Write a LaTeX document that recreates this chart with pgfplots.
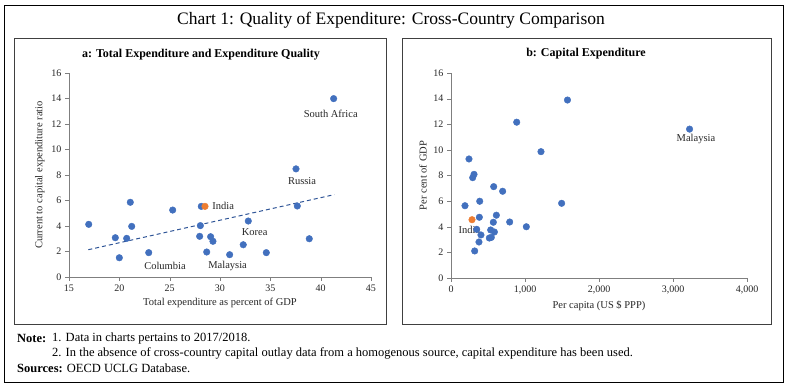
\documentclass[border=0pt]{standalone}
\usepackage{fontspec}
\setmainfont{Liberation Serif}
\usepackage{pgfplots}
\pgfplotsset{compat=1.18}
\definecolor{dotblue}{HTML}{4270BE}
\definecolor{dotorange}{HTML}{ED7D31}
\definecolor{trendblue}{HTML}{2F5597}
\definecolor{axisgray}{HTML}{7F7F7F}
\definecolor{framegray}{HTML}{404040}
\tikzset{lbl/.style={font=\fontsize{10.5}{12}\selectfont, text=black!85}}
\pgfplotsset{
  myaxis/.style={
    scale only axis,
    axis x line*=bottom, axis y line*=left,
    axis line style={draw=axisgray,-},
    tick style={draw=axisgray},
    tick align=outside,
    major tick length=4pt,
    ymin=0, ymax=16, ytick={0,2,...,16},
    tick label style={font=\fontsize{10}{11}\selectfont, text=black!85},
    label style={font=\fontsize{10.5}{12}\selectfont, text=black!85},
    /pgf/number format/assume math mode=true,
    clip=false,
  },
  dots/.style={only marks, mark=*, mark size=3.3pt, mark options={fill=dotblue, draw=dotblue}},
  indiadot/.style={only marks, mark=*, mark size=3.3pt, mark options={fill=dotorange, draw=dotorange}},
}
\begin{document}
\begin{tikzpicture}
\path[use as bounding box] (0,0) rectangle (788pt,-387pt);
\draw[black, line width=0.6pt] (4pt,-5pt) rectangle (783pt,-382pt);
\draw[framegray, line width=0.8pt] (14pt,-38pt) rectangle (386pt,-324pt);
\draw[framegray, line width=0.8pt] (402pt,-38pt) rectangle (771pt,-324pt);
\node[font=\fontsize{17.5}{20}\selectfont] at (391pt,-20pt) {Chart 1: Quality of Expenditure: Cross-Country Comparison};
\node[font=\bfseries\fontsize{12}{14}\selectfont] at (201pt,-55pt) {a: Total Expenditure and Expenditure Quality};
\node[font=\bfseries\fontsize{12}{14}\selectfont] at (586pt,-54pt) {b: Capital Expenditure};

\begin{axis}[myaxis, at={(69pt,-277pt)}, anchor=south west,
  width=302pt, height=204pt,
  xmin=15, xmax=45, xtick={15,20,...,45},
  xlabel={Total expenditure as percent of GDP},
  ylabel={Current to capital expenditure ratio}]
\addplot[trendblue, line width=1pt, dash pattern=on 4pt off 3pt] coordinates {(16.92,2.14) (41.35,6.46)};
\addplot[dots] coordinates {
(16.96,4.13) (19.60,3.08) (20.00,1.51) (20.73,3.03) (21.09,5.86) (21.23,3.97)
(22.92,1.91) (25.30,5.25) (27.98,3.19) (28.05,4.03) (28.14,5.54) (28.68,1.96)
(29.07,3.16) (29.30,2.80) (30.96,1.75) (32.31,2.53) (32.81,4.39) (34.60,1.91)
(37.55,8.48) (37.68,5.57) (38.87,3.00) (41.29,13.99)
};
\addplot[indiadot] coordinates {(28.51,5.54)};
\node[lbl] at (axis cs:41.0,12.8) {South Africa};
\node[lbl] at (axis cs:38.15,7.56) {Russia};
\node[lbl, anchor=west] at (axis cs:28.9,5.6) {India};
\node[lbl] at (axis cs:33.44,3.49) {Korea};
\node[lbl] at (axis cs:24.54,0.86) {Columbia};
\node[lbl] at (axis cs:30.76,0.86) {Malaysia};
\end{axis}

\begin{axis}[myaxis, at={(451pt,-278pt)}, anchor=south west,
  width=296pt, height=205pt,
  xmin=0, xmax=4000, xtick={0,1000,...,4000},
  scaled x ticks=false,
  xticklabel style={/pgf/number format/.cd, 1000 sep={,}},
  xlabel={Per capita (US \$ PPP)},
  ylabel={Per cent of GDP}]
\addplot[dots] coordinates {
(1574,13.89) (888,12.16) (3224,11.62) (1216,9.86) (243,9.29) (311,8.09) (293,7.83)
(577,7.13) (698,6.77) (1495,5.83) (189,5.64) (388,5.99) (383,4.74) (613,4.90)
(572,4.35) (793,4.37) (1018,4.00) (347,3.80) (536,3.75) (586,3.59) (405,3.36)
(518,3.12) (545,3.17) (378,2.81) (320,2.11)
};
\addplot[indiadot] coordinates {(284,4.55)};
\node[lbl] at (axis cs:3310,10.85) {Malaysia};
\node[lbl] at (axis cs:250,3.72) {India};
\end{axis}

\begin{scope}[every node/.style={anchor=west, inner sep=0pt, font=\fontsize{12.5}{14}\selectfont}]
\node at (17pt,-338pt) {\textbf{Note:}};
\node at (52pt,-338pt) {1. Data in charts pertains to 2017/2018.};
\node at (52pt,-353pt) {2. In the absence of cross-country capital outlay data from a homogenous source, capital expenditure has been used.};
\node at (17pt,-368pt) {\textbf{Sources:} OECD UCLG Database.};
\end{scope}
\end{tikzpicture}
\end{document}
